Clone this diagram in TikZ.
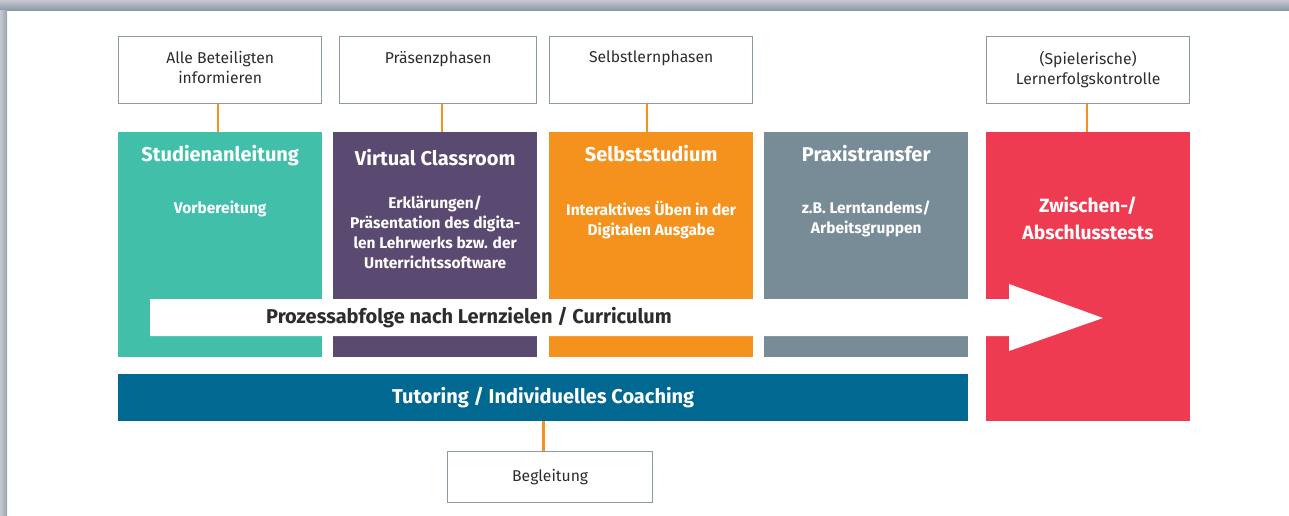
\documentclass[tikz,border=0pt]{standalone}
\usepackage{fontspec}
\setmainfont{Fira Sans}
\usetikzlibrary{positioning, calc}
\definecolor{studteal}{RGB}{65, 191, 169}
\definecolor{vcpurple}{RGB}{90, 73, 112}
\definecolor{selforange}{RGB}{245, 146, 30}
\definecolor{praxslate}{RGB}{119, 140, 151}
\definecolor{testred}{RGB}{238, 59, 82}
\definecolor{tutorblue}{RGB}{0, 104, 145}
\definecolor{framegray}{RGB}{138, 155, 166}
\definecolor{inktext}{RGB}{45, 45, 45}

\begin{document}
\begin{tikzpicture}[x=1pt, y=-1pt,
  colbox/.style={anchor=north west, minimum width=204pt, minimum height=225pt, inner sep=0pt},
  infobox/.style={draw=framegray, line width=1.3pt, fill=white, anchor=north west, minimum width=203pt, minimum height=67pt, inner sep=0pt},
  infotxt/.style={font=\fontsize{15.7}{20}\selectfont, text=inktext, align=center, inner sep=0pt},
  coltitle/.style={font=\fontsize{20}{24}\selectfont\bfseries, text=white, inner sep=0pt},
  coltxt/.style={font=\fontsize{15.5}{20}\selectfont\bfseries, text=white, align=center, inner sep=0pt},
  link/.style={draw=selforange, line width=2.6pt}
]
  \useasboundingbox (0,0) rectangle (1289,515);

  % frame
  \shade[top color=black!5!blue!10!gray!40, bottom color=framegray] (0,0) rectangle (1289,10);
  \shade[left color=black!5!blue!10!gray!40, right color=framegray!90] (0,10) rectangle (7,515);

  % top info boxes
  \node[infobox] (info1) at (118,36) {};
  \node[infobox, minimum width=197pt] (info2) at (339,36) {};
  \node[infobox] (info3) at (549,36) {};
  \node[infobox] (info4) at (986,36) {};
  \node[infotxt, below=15pt of info1.north] (info1t) {Alle Beteiligten\\informieren};
  \node[infotxt, below=15pt of info2.north] (info2t) {Präsenzphasen};
  \node[infotxt, below=15pt of info3.north] (info3t) {Selbstlernphasen};
  \node[infotxt, below=15pt of info4.north] (info4t) {(Spielerische)\\Lernerfolgskontrolle};

  % columns
  \node[colbox, fill=studteal] (stud) at (118,132) {};
  \node[colbox, fill=vcpurple] (vc) at (333,132) {};
  \node[colbox, fill=selforange] (self) at (549,132) {};
  \node[colbox, fill=praxslate] (prax) at (764,132) {};
  \node[colbox, fill=testred, minimum height=289pt] (test) at (986,132) {};

  % connectors
  \draw[link] ([xshift=-2pt]info1.south) -- ([xshift=-2pt]info1.south |- stud.north);
  \draw[link] ([xshift=4pt]info2.south) -- ([xshift=4pt]info2.south |- vc.north);
  \draw[link] ([xshift=-4pt]info3.south) -- ([xshift=-4pt]info3.south |- self.north);
  \draw[link] ([xshift=-1pt]info4.south) -- ([xshift=-1pt]info4.south |- test.north);

  % titles and texts
  \node[coltitle, below=13pt of stud.north] (studT) {Studienanleitung};
  \node[coltitle, below=17pt of vc.north] (vcT) {Virtual Classroom};
  \node[coltitle, below=13pt of self.north] (selfT) {Selbststudium};
  \node[coltitle, below=13pt of prax.north] (praxT) {Praxistransfer};
  \node[coltxt, below=69pt of stud.north] (studX) {Vorbereitung};
  \node[coltxt, below=64pt of vc.north] (vcX) {Erklärungen/\\Präsentation des digita-\\len Lehrwerks bzw. der\\Unterrichtssoftware};
  \node[coltxt, below=69pt of self.north] (selfX) {Interaktives Üben in der\\Digitalen Ausgabe};
  \node[coltxt, below=69pt of prax.north] (praxX) {z.B. Lerntandems/\\Arbeitsgruppen};
  \node[coltitle, align=center, font=\fontsize{19.2}{27}\selectfont\bfseries] (testT) at (1088,218) {Zwischen-/\\Abschlusstests};

  % process arrow
  \fill[white] (150,299) -- (1009,299) -- (1009,284) -- (1103,318) -- (1009,351) -- (1009,336) -- (150,336) -- cycle;
  \node[font=\fontsize{20}{24}\selectfont\bfseries, text=inktext] (flow) at (469,318) {Prozessabfolge nach Lernzielen / Curriculum};

  % tutoring bar
  \node[fill=tutorblue, anchor=north west, minimum width=850pt, minimum height=47pt, inner sep=0pt,
    font=\fontsize{20}{24}\selectfont\bfseries, text=white] (tutor) at (118,374) {Tutoring / Individuelles Coaching};
  \node[infobox, minimum width=205pt, minimum height=51pt] (begl) at (447,451) {};
  \node[infotxt] (beglT) at (begl.center) {Begleitung};
  \draw[link] (tutor.south) -- (tutor.south |- begl.north);
\end{tikzpicture}
\end{document}
